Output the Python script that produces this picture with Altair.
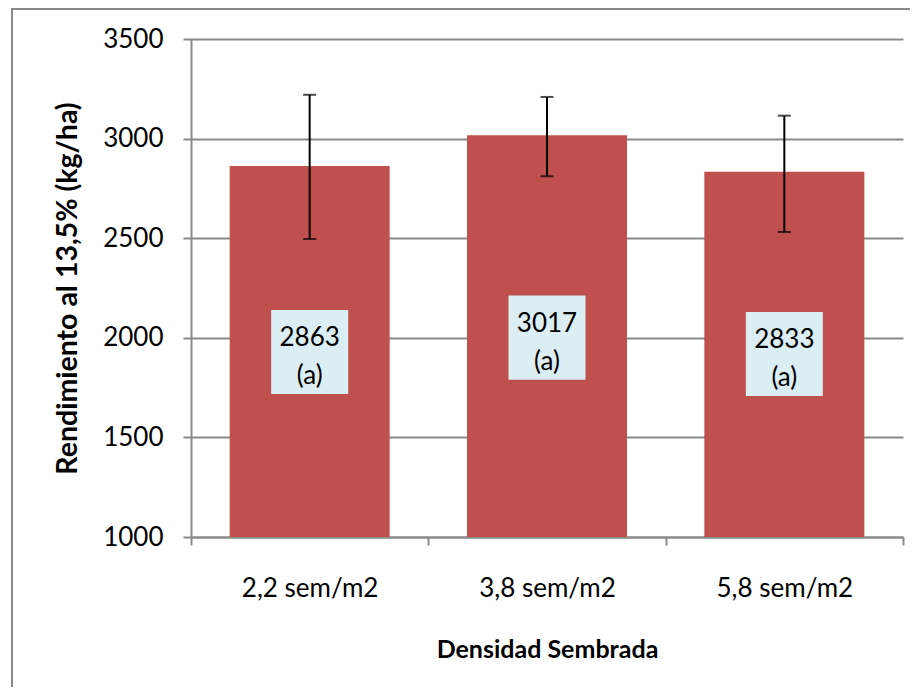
import altair as alt
import pandas as pd

categories = ["2,2 sem/m2", "3,8 sem/m2", "5,8 sem/m2"]
rendimiento = [2863, 3017, 2833]
err_hi = [3220, 3209, 3115]
err_lo = [2496, 2811, 2531]
letras = ["(a)", "(a)", "(a)"]
label_center = [1929, 2001, 1919]
y_ticks = [1000, 1500, 2000, 2500, 3000, 3500]

W, H = 712, 498
BOX_HALF = 211  # half of label box height in data units

df = pd.DataFrame({
    "cat": categories,
    "val": rendimiento,
    "hi": err_hi,
    "lo": err_lo,
    "txt": [f"{v}\n{l}" for v, l in zip(rendimiento, letras)],
    "c": label_center,
})
df["blo"] = df["c"] - BOX_HALF
df["bhi"] = df["c"] + BOX_HALF

GRAY = "#898989"
FONT = "Lato"

x = alt.X("cat:N", sort=categories,
          scale=alt.Scale(paddingInner=0, paddingOuter=0),
          axis=alt.Axis(title="Densidad Sembrada", labelAngle=0, tickBand="extent",
                        labelFontSize=26, labelPadding=30, titleFontSize=25,
                        titleFontWeight="bold", titlePadding=36, grid=False))
y_scale = alt.Scale(domain=[1000, 3500], nice=False, zero=False)

base = alt.Chart(df)

bars = base.mark_bar(color="#C0504D", width=160, clip=True).encode(
    x=x,
    y=alt.Y("val:Q", scale=y_scale,
            axis=alt.Axis(title="Rendimiento al 13,5% (kg/ha)", values=y_ticks, format="d",
                          labelFontSize=26, labelPadding=20, titleFontSize=28.5,
                          titleFontWeight="bold", titlePadding=20, grid=True)),
)

rule = base.mark_rule(color="black", strokeWidth=2).encode(
    x=alt.X("cat:N", sort=categories), y=alt.Y("lo:Q", scale=y_scale), y2="hi:Q")
cap_hi = base.mark_tick(color="black", thickness=2, size=13, orient="horizontal").encode(
    x=alt.X("cat:N", sort=categories), y=alt.Y("hi:Q", scale=y_scale))
cap_lo = base.mark_tick(color="black", thickness=2, size=13, orient="horizontal").encode(
    x=alt.X("cat:N", sort=categories), y=alt.Y("lo:Q", scale=y_scale))

boxes = base.mark_bar(color="#DBEEF4", width=77).encode(
    x=alt.X("cat:N", sort=categories), y=alt.Y("blo:Q", scale=y_scale), y2="bhi:Q")
texts = base.mark_text(font=FONT, fontSize=26, lineBreak="\n", lineHeight=38, dy=-14,
                       baseline="middle", align="center", color="black").encode(
    x=alt.X("cat:N", sort=categories), y=alt.Y("c:Q", scale=y_scale), text="txt:N")

border_left = alt.Chart(df).mark_rule(color=GRAY, strokeWidth=2, clip=False).encode(
    x=alt.value(-179), y=alt.value(-31), y2=alt.value(H + 160))
border_top = alt.Chart(df).mark_rule(color=GRAY, strokeWidth=2, clip=False).encode(
    x=alt.value(-179), x2=alt.value(W + 10), y=alt.value(-30))

chart = alt.layer(bars, rule, cap_hi, cap_lo, boxes, texts, border_left, border_top).properties(
    width=W, height=H,
    autosize=alt.AutoSizeParams(type="none"),
    padding={"left": 183, "top": 31, "right": 7, "bottom": 150},
    background="white",
).configure_view(stroke=None).configure_axis(
    domainColor=GRAY, domainWidth=2, tickColor=GRAY, tickWidth=2, tickSize=8,
    gridColor=GRAY, gridWidth=2, labelFont=FONT, titleFont=FONT,
    labelColor="black", titleColor="black",
)

chart.save("out.html", embed_options={"renderer": "svg", "actions": False})
